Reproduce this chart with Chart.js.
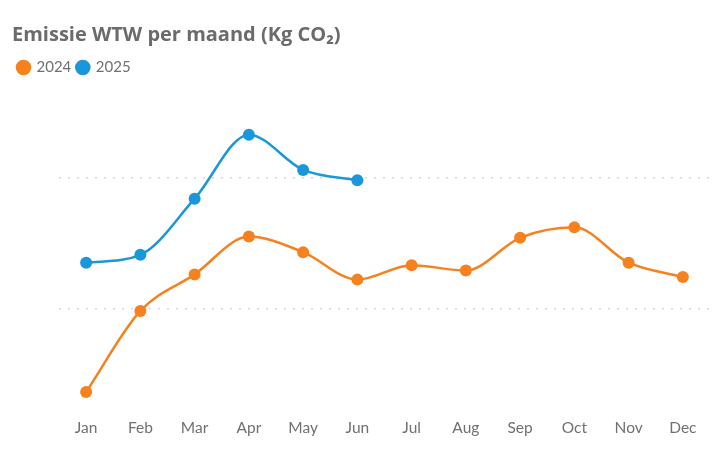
<!DOCTYPE html>
<html>
<head>
<meta charset="utf-8">
<script src="https://cdn.jsdelivr.net/npm/chart.js@4"></script>
<style>
  html, body { margin: 0; padding: 0; background: #fff; }
  #wrap { width: 720px; height: 454px; }
</style>
</head>
<body>
<div id="wrap"><canvas id="emissionChart"></canvas></div>
<script>
// data
const months = ['Jan', 'Feb', 'Mar', 'Apr', 'May', 'Jun', 'Jul', 'Aug', 'Sep', 'Oct', 'Nov', 'Dec'];
const values2024 = [36, 98, 126, 155, 143, 122, 133, 129, 154, 162, 135, 124];
const values2025 = [135, 141, 184, 233, 206, 198];
const gridValues = [100, 200];

const orange = '#F5811F';
const blue = '#1A97DA';

const emissionConfig = {
    type: 'line',
    data: {
        labels: months,
        datasets: [
            {
                label: '2024',
                data: values2024,
                borderColor: orange,
                backgroundColor: orange,
                pointBackgroundColor: orange,
                borderWidth: 2.5,
                pointRadius: 6,
                pointBorderWidth: 0,
                cubicInterpolationMode: 'monotone'
            },
            {
                label: '2025',
                data: values2025,
                borderColor: blue,
                backgroundColor: blue,
                pointBackgroundColor: blue,
                borderWidth: 2.5,
                pointRadius: 6,
                pointBorderWidth: 0,
                cubicInterpolationMode: 'monotone'
            }
        ]
    },
    options: {
        responsive: true,
        maintainAspectRatio: false,
        animation: false,
        layout: { padding: { left: 12, right: 10, top: 17, bottom: 9 } },
        scales: {
            x: {
                offset: true,
                grid: { display: false },
                border: { display: false },
                ticks: { color: '#707070', font: { family: 'Lato', size: 15.5 }, padding: 8 }
            },
            y: {
                min: 28,
                max: 271,
                afterBuildTicks: axis => { axis.ticks = gridValues.map(v => ({ value: v })); },
                ticks: { display: false },
                border: { display: false, dash: [2, 7] },
                grid: { color: '#d6d6d6', lineWidth: 1.5, drawTicks: false },
                afterFit: axis => { axis.width = 47; }
            }
        },
        plugins: {
            title: {
                display: true,
                text: 'Emissie WTW per maand (Kg CO₂)',
                align: 'start',
                color: '#6b6b6b',
                font: { family: 'Open Sans', size: 20, weight: 'bold' },
                padding: { top: 6, bottom: 7 }
            },
            legend: {
                display: true,
                align: 'start',
                labels: {
                    usePointStyle: true,
                    pointStyle: 'circle',
                    boxWidth: 11,
                    boxHeight: 11,
                    padding: 6,
                    color: '#707070',
                    font: { family: 'Lato', size: 15 }
                }
            },
            tooltip: { enabled: false }
        }
    }
};

const emissionElement = document.querySelector('#emissionChart');
const emissionChart = new Chart(emissionElement, emissionConfig);
</script>
</body>
</html>
